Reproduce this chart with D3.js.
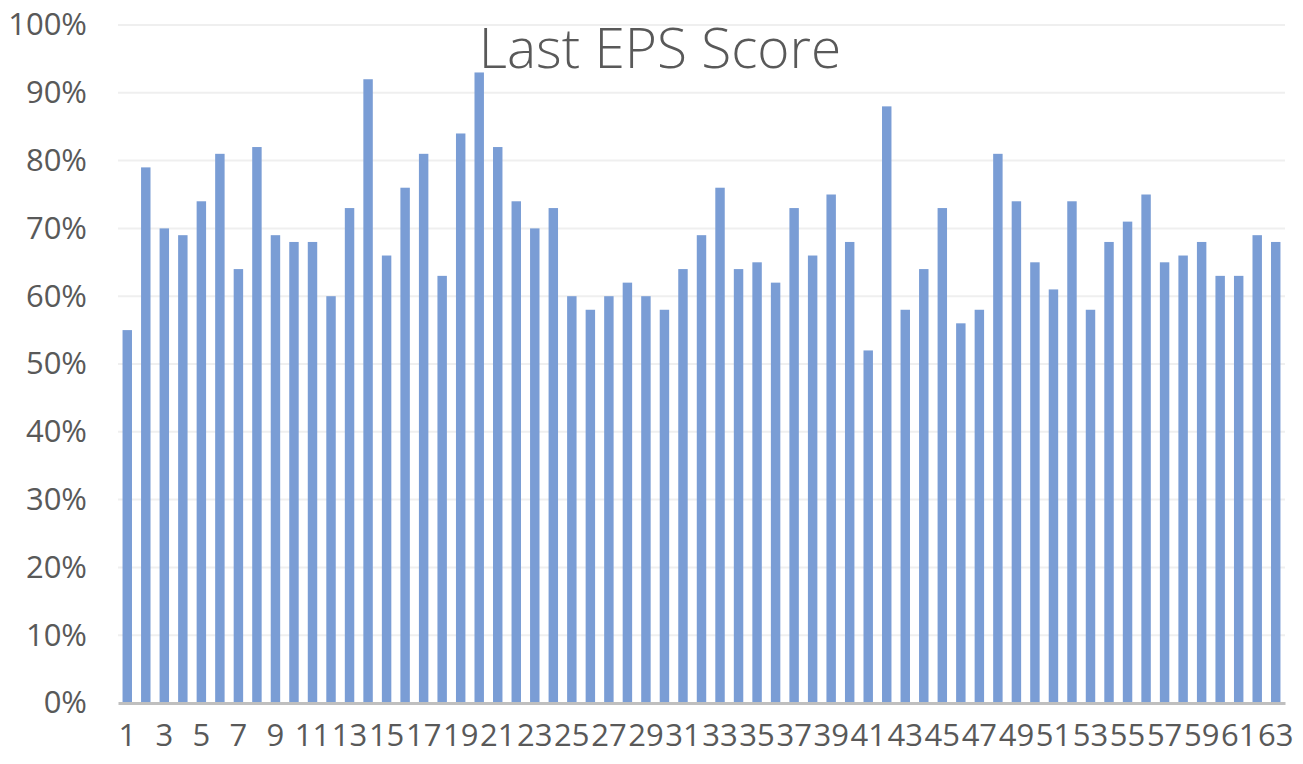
<!DOCTYPE html>
<html>
<head>
<meta charset="utf-8">
<script src="https://cdn.jsdelivr.net/npm/d3@7"></script>
<style>
  html, body { margin: 0; padding: 0; background: #fff; }
  svg { display: block; }
</style>
</head>
<body>
<div id="chart"></div>
<script>
// x categories 1..63, every other one labelled
const categories = ['1','2','3','4','5','6','7','8','9','10','11','12','13','14','15','16','17','18','19','20',
  '21','22','23','24','25','26','27','28','29','30','31','32','33','34','35','36','37','38','39','40',
  '41','42','43','44','45','46','47','48','49','50','51','52','53','54','55','56','57','58','59','60',
  '61','62','63'];

// last EPS score, in percent
const scores = [55, 79, 70, 69, 74, 81, 64, 82, 69, 68, 68, 60, 73, 92, 66, 76, 81, 63, 84, 93,
  82, 74, 70, 73, 60, 58, 60, 62, 60, 58, 64, 69, 76, 64, 65, 62, 73, 66, 75, 68,
  52, 88, 58, 64, 73, 56, 58, 81, 74, 65, 61, 74, 58, 68, 71, 75, 65, 66, 68, 63,
  63, 69, 68];

const yTicks = [0, 10, 20, 30, 40, 50, 60, 70, 80, 90, 100];
const title = 'Last EPS Score';

const W = 1303, H = 764;
const margin = {top: 25, right: 18, bottom: 61, left: 118};
const width = W - margin.left - margin.right;
const height = H - margin.top - margin.bottom;

const svg = d3.select('#chart')
  .append('svg')
  .attr('width', W)
  .attr('height', H);

const g = svg.append('g')
  .attr('transform', 'translate(' + margin.left + ',' + margin.top + ')');

const x = d3.scaleBand()
  .domain(categories)
  .range([0, width])
  .paddingInner(0.49)
  .paddingOuter(0.245);

const y = d3.scaleLinear()
  .domain([0, 100])
  .range([height, 0]);

// gridlines
g.append('g')
  .selectAll('line')
  .data(yTicks.filter(d => d > 0))
  .enter()
  .append('line')
  .attr('x1', 0)
  .attr('x2', width)
  .attr('y1', d => y(d))
  .attr('y2', d => y(d))
  .attr('stroke', '#efefef')
  .attr('stroke-width', 2);

// y axis labels
const yAxis = g.append('g')
  .call(d3.axisLeft(y).tickValues(yTicks).tickSize(0).tickPadding(31).tickFormat(d => d + '%'));
yAxis.select('.domain').remove();
yAxis.selectAll('text')
  .attr('fill', '#595959')
  .style('font-family', '"Open Sans", "Noto Sans", sans-serif')
  .style('font-size', '31px');

// bars
g.append('g')
  .selectAll('rect')
  .data(scores)
  .enter()
  .append('rect')
  .attr('x', (d, i) => x(categories[i]))
  .attr('y', d => y(d))
  .attr('width', x.bandwidth())
  .attr('height', d => height - y(d))
  .attr('fill', '#7a9dd5');

// x axis
const xAxis = g.append('g')
  .attr('transform', 'translate(0,' + height + ')')
  .call(d3.axisBottom(x)
    .tickValues(categories.filter((d, i) => i % 2 === 0))
    .tickSize(0)
    .tickPadding(21));
xAxis.select('.domain')
  .attr('stroke', '#bfbfbf')
  .attr('stroke-width', 3);
xAxis.selectAll('text')
  .attr('fill', '#595959')
  .style('font-family', '"Open Sans", "Noto Sans", sans-serif')
  .style('font-size', '31px');

// title
svg.append('text')
  .attr('x', 660)
  .attr('y', 68)
  .attr('text-anchor', 'middle')
  .attr('fill', '#595959')
  .style('font-family', '"Open Sans", "Noto Sans", sans-serif')
  .style('font-weight', 300)
  .style('font-size', '55px')
  .text(title);
</script>
</body>
</html>
